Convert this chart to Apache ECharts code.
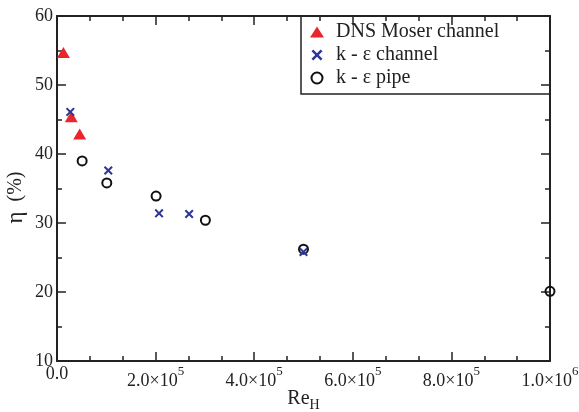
<!DOCTYPE html>
<html>
<head>
<meta charset="utf-8">
<script src="https://cdn.jsdelivr.net/npm/echarts@6/dist/echarts.min.js"></script>
<style>
  html, body { margin: 0; padding: 0; background: #fff; }
  #chart { width: 579px; height: 412px; }
</style>
</head>
<body>
<div id="chart"></div>
<script>
// Efficiency eta (%) versus Reynolds number Re_H
const dnsRe   = [13000, 29000, 46000];
const dnsEta  = [54.7, 45.4, 42.9];
const chanRe  = [27000, 104000, 207000, 268000, 500000];
const chanEta = [46.1, 37.6, 31.4, 31.3, 25.8];
const pipeRe  = [51000, 101000, 201000, 301000, 500000, 1000000];
const pipeEta = [39.0, 35.8, 33.9, 30.4, 26.2, 20.1];

const seriesNames = ['DNS Moser channel', 'k - \u03b5 channel', 'k - \u03b5 pipe'];
const xTickLabels = { 0: '0.0', 200000: '2.0\u00d710|5', 400000: '4.0\u00d710|5',
                      600000: '6.0\u00d710|5', 800000: '8.0\u00d710|5', 1000000: '1.0\u00d710|6' };

const pairs = (xs, ys) => xs.map((x, i) => [x, ys[i]]);

const FONT = '"Liberation Serif", "Times New Roman", serif';
const INK = '#222';
const ZWSP = '\u200b';
const CROSS = 'path://M0,1.6L1.6,0L5,3.4L8.4,0L10,1.6L6.6,5L10,8.4L8.4,10L5,6.6L1.6,10L0,8.4L3.4,5Z';

const axisCommon = {
  type: 'value',
  axisLine: { show: true, onZero: false, lineStyle: { color: INK, width: 2 } },
  axisTick: { show: true, inside: true, length: 9, lineStyle: { color: INK, width: 1.5 } },
  minorTick: { show: true, length: 5, lineStyle: { color: INK, width: 1.5 } },
  splitLine: { show: false },
  minorSplitLine: { show: false },
  nameMoveOverlap: false
};

const xBase = Object.assign({}, axisCommon, { min: 0, max: 1000000, interval: 200000 });
xBase.minorTick = Object.assign({}, axisCommon.minorTick, { splitNumber: 3 });
const yBase = Object.assign({}, axisCommon, { min: 10, max: 60, interval: 10 });
yBase.minorTick = Object.assign({}, axisCommon.minorTick, { splitNumber: 2 });

const chart = echarts.init(document.getElementById('chart'), null, { renderer: 'canvas' });

chart.setOption({
  backgroundColor: '#fff',
  animation: false,
  grid: { left: 57, right: 29, top: 16, bottom: 51, containLabel: false, outerBoundsMode: 'none' },
  xAxis: [
    Object.assign({}, xBase, {
      position: 'bottom',
      // "Re" with a subscript H; the spacer token sets the line height
      name: '{a|Re}{b|H}{z|' + ZWSP + '}',
      nameLocation: 'middle',
      nameGap: 28,
      nameTextStyle: {
        rich: {
          a: { fontFamily: FONT, fontSize: 20, lineHeight: 20, color: INK, verticalAlign: 'top' },
          b: { fontFamily: FONT, fontSize: 14, lineHeight: 14, color: INK, verticalAlign: 'bottom' },
          z: { fontSize: 1, lineHeight: 23, verticalAlign: 'top' }
        }
      },
      axisLabel: {
        margin: 4,
        formatter: v => {
          const s = xTickLabels[v];
          if (s === undefined) return '';
          const parts = s.split('|');
          return parts.length > 1
            ? '{m|' + parts[0] + '}{s|' + parts[1] + '}{z|' + ZWSP + '}'
            : '{m|' + parts[0] + '}';
        },
        rich: {
          m: { fontFamily: FONT, fontSize: 18, lineHeight: 18, color: INK, verticalAlign: 'bottom' },
          s: { fontFamily: FONT, fontSize: 13, lineHeight: 13, color: INK, verticalAlign: 'top' },
          z: { fontSize: 1, lineHeight: 25, verticalAlign: 'top' }
        }
      }
    }),
    Object.assign({}, xBase, { position: 'top', axisLabel: { show: false } })
  ],
  yAxis: [
    Object.assign({}, yBase, {
      position: 'left',
      name: '{e|\u03b7}{p|  (%)}',
      nameLocation: 'middle',
      nameGap: 30,
      nameTextStyle: {
        padding: [0, 18, 0, 0],
        rich: {
          e: { fontFamily: FONT, fontSize: 23, lineHeight: 23, color: INK },
          p: { fontFamily: FONT, fontSize: 20, lineHeight: 23, color: INK }
        }
      },
      axisLabel: { margin: 4, fontFamily: FONT, fontSize: 18, color: INK }
    }),
    Object.assign({}, yBase, { position: 'right', axisLabel: { show: false } })
  ],
  legend: {
    orient: 'vertical',
    left: 310,
    top: 22,
    padding: 0,
    itemGap: 3,
    itemWidth: 14,
    itemHeight: 11,
    textStyle: { fontFamily: FONT, fontSize: 20, lineHeight: 18, color: INK, padding: [0, 0, 0, 7] },
    data: [
      { name: seriesNames[0], icon: 'triangle' },
      { name: seriesNames[1], icon: CROSS },
      { name: seriesNames[2], icon: 'circle',
        itemStyle: { color: 'rgba(255,255,255,0)', borderColor: '#111', borderWidth: 2 } }
    ]
  },
  graphic: [{
    type: 'rect',
    shape: { x: 301, y: 16, width: 249, height: 78 },
    style: { fill: '#fff', stroke: INK, lineWidth: 1.5 },
    z: 0,
    silent: true
  }],
  series: [
    {
      name: seriesNames[0], type: 'scatter', clip: false, z: 3,
      symbol: 'triangle', symbolSize: [13, 11],
      itemStyle: { color: '#e8262b', opacity: 1 },
      data: pairs(dnsRe, dnsEta)
    },
    {
      name: seriesNames[2], type: 'scatter', clip: false, z: 4,
      symbol: 'circle', symbolSize: 9,
      itemStyle: { color: 'rgba(255,255,255,0)', borderColor: '#111', borderWidth: 2, opacity: 1 },
      data: pairs(pipeRe, pipeEta)
    },
    {
      name: seriesNames[1], type: 'scatter', clip: false, z: 5,
      symbol: CROSS, symbolSize: 9,
      itemStyle: { color: '#2f3699', opacity: 1 },
      data: pairs(chanRe, chanEta)
    }
  ]
});
</script>
</body>
</html>
